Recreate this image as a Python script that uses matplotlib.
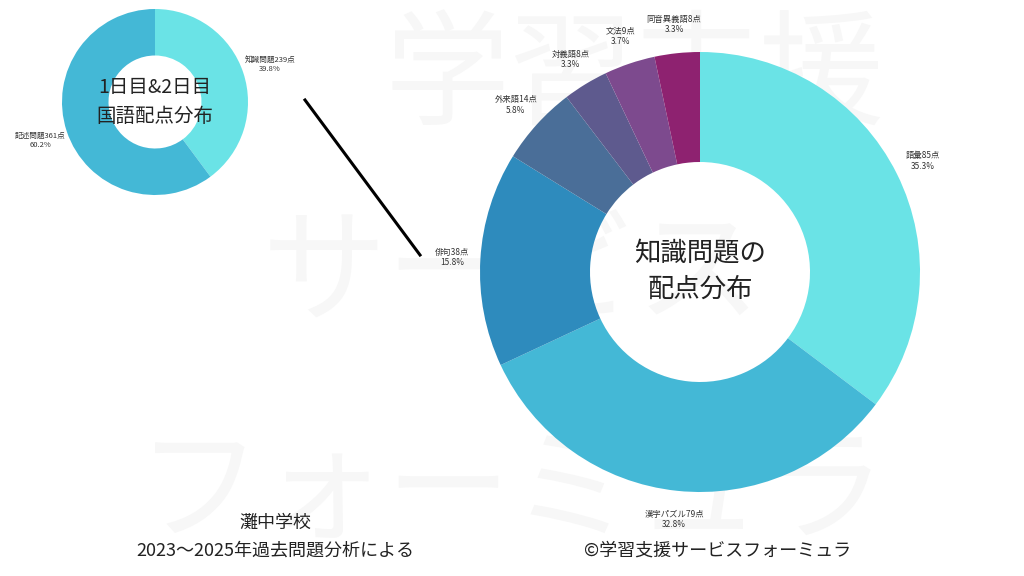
import matplotlib
matplotlib.use("Agg")
import matplotlib.pyplot as plt
from matplotlib.lines import Line2D

plt.rcParams["font.family"] = "Noto Sans CJK JP"

small_labels = ["知識問題", "記述問題"]
small_values = [239, 361]
small_colors = ["#6ae3e6", "#44b8d6"]

big_labels = ["語彙", "漢字パズル", "俳句", "外来語", "対義語", "文法", "同音異義語"]
big_values = [85, 79, 38, 14, 8, 9, 8]
big_colors = ["#6ae3e6", "#44b8d6", "#2e8bbd", "#4a6e98", "#5e5a8e", "#7d4a8e", "#8e2270"]

W, H = 1024, 576
fig = plt.figure(figsize=(W/100, H/100), dpi=100)
fig.patch.set_facecolor("white")

# faint watermark behind everything
for txt, x, y in [("学習支援", 0.62, 0.86), ("サービス", 0.5, 0.52), ("フォーミュラ", 0.5, 0.14)]:
    fig.text(x, y, txt, fontsize=90, color="#f7f7f7", ha="center", va="center", zorder=-5)

def donut(cx, cy, r, values, labels, colors, fs, ld):
    ax = fig.add_axes([(cx - r)/W, (H - cy - r)/H, 2*r/W, 2*r/H])
    ax.patch.set_alpha(0)
    total = sum(values)
    lab = [f"{l}{v}点\n{v/total*100:.1f}%" for l, v in zip(labels, values)]
    wedges, texts = ax.pie(values, colors=colors, startangle=90, counterclock=False,
                           labels=lab, labeldistance=ld,
                           wedgeprops=dict(width=0.5, edgecolor="none"),
                           textprops=dict(fontsize=fs, color="#333333", linespacing=1.2),
                           radius=1)
    for t in texts:
        t.set_horizontalalignment("center")
        t.set_verticalalignment("center")
    ax.set_xlim(-1, 1); ax.set_ylim(-1, 1)
    ax.set_aspect("equal")
    ax.axis("off")
    return ax

ax1 = donut(155, 102, 93, small_values, small_labels, small_colors, 5.5, 1.3)
ax1.text(0, 0, "1日目&2日目\n国語配点分布", ha="center", va="center", fontsize=14,
         color="#222222", linespacing=1.5)

ax2 = donut(700, 272, 220, big_values, big_labels, big_colors, 6, 1.13)
ax2.text(0, 0, "知識問題の\n配点分布", ha="center", va="center", fontsize=19,
         color="#222222", linespacing=1.4)

fig.add_artist(Line2D([305/W, 420/W], [1-100/H, 1-255/H], color="black", lw=2.2))

fig.text(275/W, 1-523/H, "灘中学校", ha="center", va="center", fontsize=13, color="#222222")
fig.text(275/W, 1-551/H, "2023～2025年過去問題分析による", ha="center", va="center", fontsize=13, color="#222222")
fig.text(718/W, 1-551/H, "©学習支援サービスフォーミュラ", ha="center", va="center", fontsize=13, color="#222222")

fig.savefig("out.png", dpi=100)
